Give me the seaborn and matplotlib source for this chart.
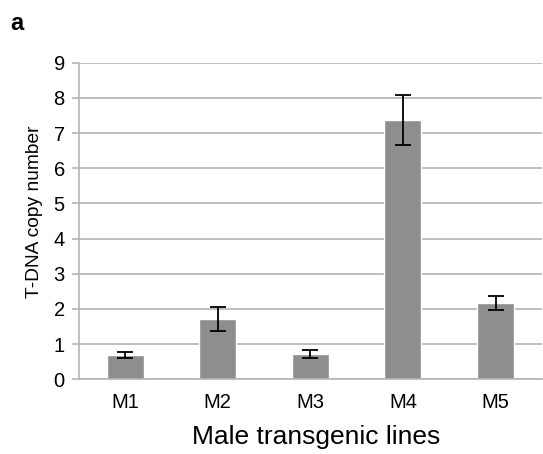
import numpy as np
import pandas as pd
import matplotlib
matplotlib.use('Agg')
import matplotlib.pyplot as plt
import seaborn as sns

# Data
lines = ['M1', 'M2', 'M3', 'M4', 'M5']
copy_number = [0.69, 1.71, 0.72, 7.38, 2.17]
copy_err = [0.08, 0.35, 0.12, 0.71, 0.21]
y_ticks = [0, 1, 2, 3, 4, 5, 6, 7, 8, 9]

df = pd.DataFrame({'line': lines, 'copies': copy_number, 'err': copy_err})

sns.set_theme(style='white')
plt.rcParams['font.family'] = ['Liberation Sans', 'DejaVu Sans']

fig = plt.figure(figsize=(5.43, 4.54), dpi=100)
ax = fig.add_axes([0.145, 0.1645, 0.853, 0.6975])

grid_col = '#b4b4b4'
ax.yaxis.grid(True, color=grid_col, linewidth=1.2)
ax.set_axisbelow(True)

sns.barplot(data=df, x='line', y='copies', color='#8e8e8e', width=0.4,
            saturation=1, ax=ax, errorbar=None)
ax.errorbar(np.arange(len(lines)), df['copies'], yerr=df['err'], fmt='none',
            ecolor='black', elinewidth=1.3, capsize=6, capthick=1.3)

ax.set_ylim(0, 9)
ax.set_xlim(-0.5, len(lines) - 0.5)
ax.set_yticks(y_ticks)

for side in ['top', 'right']:
    ax.spines[side].set_visible(False)
for side in ['left', 'bottom']:
    ax.spines[side].set_color(grid_col)
    ax.spines[side].set_linewidth(1.2)

ax.tick_params(axis='y', which='major', left=True, length=5, width=1.2,
               color=grid_col, labelsize=14.5, pad=5, labelcolor='black')
ax.tick_params(axis='x', which='major', bottom=False, labelsize=14.5, pad=4,
               labelcolor='black')

ax.set_ylabel('T-DNA copy number', fontsize=13.8, color='black')
ax.yaxis.set_label_coords(-0.078, 0.53)
ax.set_xlabel('Male transgenic lines', fontsize=19, color='black')
ax.xaxis.set_label_coords(0.513, -0.143)

fig.text(0.018, 0.935, 'a', fontsize=17, fontweight='bold', color='black')

fig.savefig('out.png', dpi=100)
plt.close(fig)
